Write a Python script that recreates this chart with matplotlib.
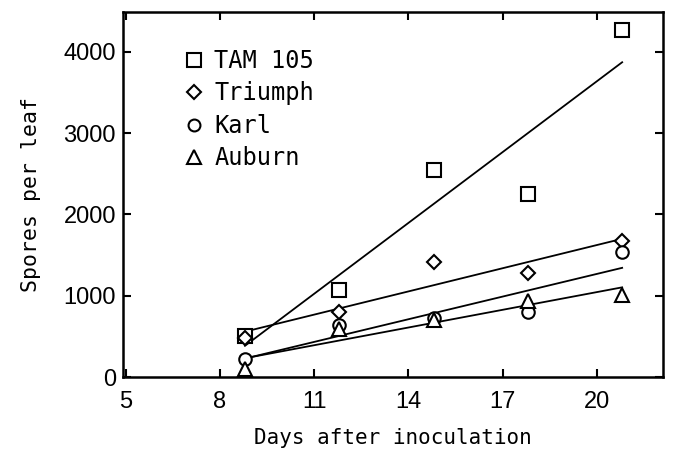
import numpy as np
import matplotlib
matplotlib.use("Agg")
import matplotlib.pyplot as plt

days = [8.8, 11.8, 14.8, 17.8, 20.8]
tam105 = [500, 1070, 2550, 2250, 4270]
triumph = [480, 800, 1420, 1275, 1670]
karl = [225, 640, 720, 800, 1540]
auburn = [95, 590, 700, 940, 1010]

series_names = ["TAM 105", "Triumph", "Karl", "Auburn"]
series_values = [tam105, triumph, karl, auburn]
markers = ["s", "D", "o", "^"]
msizes = [10.5, 7.5, 9, 10]

xticks = [5, 8, 11, 14, 17, 20]
yticks = [0, 1000, 2000, 3000, 4000]

mono = ["DejaVu Sans Mono"]
tickfont = ["Liberation Sans", "DejaVu Sans"]

fig = plt.figure(figsize=(6.74, 4.5), dpi=100)
ax = fig.add_axes([0.1825, 0.1622, 0.9837 - 0.1825, 0.9733 - 0.1622])

x = np.array(days)
xl = np.array([days[0], days[-1]])
handles = []
for name, vals in zip(series_names, series_values):
    k, b = np.polyfit(x, np.array(vals, dtype=float), 1)
    ax.plot(xl, k * xl + b, color="black", lw=1.3, zorder=2)
for i, (name, vals, m, ms) in enumerate(zip(series_names, series_values, markers, msizes)):
    h, = ax.plot(days, vals, linestyle="none", marker=m, markersize=ms,
                 markerfacecolor="white", markeredgecolor="black",
                 markeredgewidth=1.5, zorder=3 + i, label=name)
    handles.append(h)

ax.set_xlim(4.92, 22.1)
ax.set_ylim(0, 4490)
ax.set_xticks(xticks)
ax.set_yticks(yticks)
ax.set_xticklabels([str(t) for t in xticks], family=tickfont, fontsize=17)
ax.set_yticklabels([str(t) for t in yticks], family=tickfont, fontsize=17)
ax.tick_params(direction="in", length=6, width=1.5, top=True, right=True)
ax.tick_params(axis="x", pad=10)
ax.tick_params(axis="y", pad=5)
for s in ax.spines.values():
    s.set_linewidth(1.8)

ax.set_xlabel("Days after inoculation", family=mono, fontsize=15, labelpad=11)
ax.set_ylabel("Spores per leaf", family=mono, fontsize=15.5, labelpad=16)

leg = ax.legend(handles=handles, loc="upper left", bbox_to_anchor=(0.097, 0.925),
                frameon=False, prop={"family": "DejaVu Sans Mono", "size": 17},
                handlelength=0.8, handletextpad=0.45, labelspacing=0.36,
                borderaxespad=0, markerscale=0.95)

fig.savefig("out.png", dpi=100)
